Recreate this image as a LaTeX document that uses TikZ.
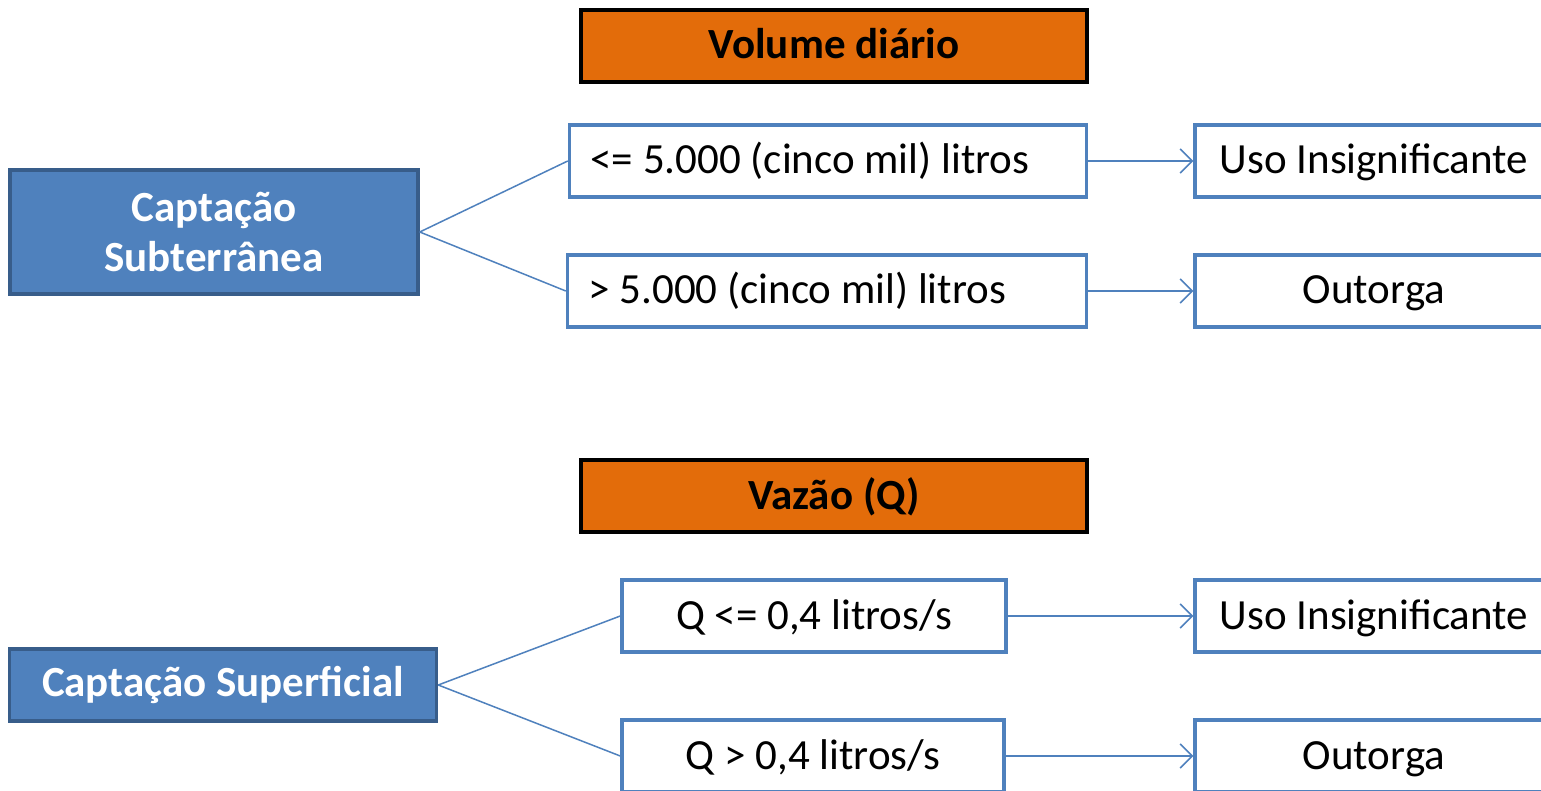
\documentclass[tikz,border=0pt]{standalone}
\usepackage{fontspec}
\setmainfont{Carlito}
\usepackage{tikz}
\usetikzlibrary{arrows.meta}
\definecolor{laranja}{RGB}{227,108,10}
\definecolor{azul}{RGB}{79,129,189}
\definecolor{azulescuro}{RGB}{56,93,138}
\tikzset{
  titulo/.style={draw=black, line width=4pt, fill=laranja, minimum width=506pt,
    minimum height=72pt, text height=32pt, text depth=6pt,
    font=\fontsize{43}{50}\selectfont\bfseries},
  origem/.style={draw=azulescuro, line width=3.5pt, fill=azul, text=white,
    align=center, font=\fontsize{43}{50}\selectfont\bfseries},
  faixa/.style={draw=azul, line width=3.5pt, fill=white, minimum height=72pt,
    text height=32pt, text depth=6pt, font=\fontsize{43}{50}\selectfont},
  liga/.style={draw=azul, line width=1.5pt},
  seta/.style={liga, -{Straight Barb[length=12pt,width=24pt,line width=1.5pt]}}
}
\begin{document}
\begin{tikzpicture}[x=1pt,y=-1pt]
\clip (0,0) rectangle (1541,791);
\fill[white] (0,0) rectangle (1541,791);

% volume diario
\node[titulo] (vol) at (834,46) {Volume diário};
\node[origem, minimum width=408pt, minimum height=124pt] (sub) at (214,232) {Captação\\Subterrânea};
\node[faixa, minimum width=517pt, inner xsep=21pt, text width=475pt, align=flush left] (a1) at (828,161) {<= 5.000 (cinco mil) litros};
\node[faixa, minimum width=519pt, inner xsep=21pt, text width=477pt, align=flush left] (a2) at (827,291) {> 5.000 (cinco mil) litros};
\node[faixa, minimum width=358pt] (r1) at (1374,161) {Uso Insignificante};
\node[faixa, minimum width=358pt] (r2) at (1374,291) {Outorga};
\draw[liga] (sub.east) -- (a1.west);
\draw[liga] (sub.east) -- (a2.west);
\draw[seta] (a1.east) -- (r1.west);
\draw[seta] (a2.east) -- (r2.west);

% vazao
\node[titulo] (vaz) at (834,496) {Vazão (Q)};
\node[origem, minimum width=427pt, minimum height=72pt] (sup) at (223,685) {Captação Superficial};
\node[faixa, minimum width=384pt] (b1) at (814,616) {Q <= 0,4 litros/s};
\node[faixa, minimum width=382pt] (b2) at (813,756) {Q > 0,4 litros/s};
\node[faixa, minimum width=358pt] (r3) at (1374,616) {Uso Insignificante};
\node[faixa, minimum width=358pt] (r4) at (1374,756) {Outorga};
\draw[liga] (sup.east) -- (b1.west);
\draw[liga] (sup.east) -- (b2.west);
\draw[seta] (b1.east) -- (r3.west);
\draw[seta] (b2.east) -- (r4.west);
\end{tikzpicture}
\end{document}
